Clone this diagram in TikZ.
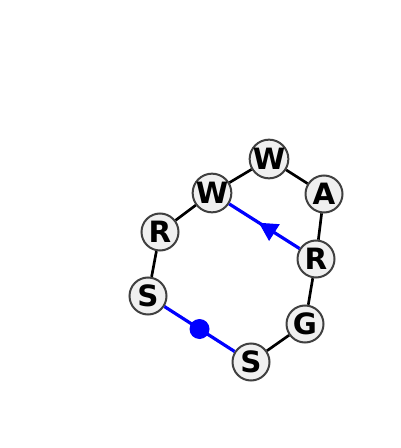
\documentclass[tikz,border=0pt]{standalone}
\usepackage{fontspec}
\setsansfont{DejaVu Sans}
\usetikzlibrary{arrows.meta,decorations.markings}

\tikzset{
  res/.style={circle,draw=black!75,line width=1.5pt,fill=black!6,
    minimum size=27.75pt,inner sep=0pt,
    font=\sffamily\bfseries\fontsize{22}{22}\selectfont},
  bond/.style={black,line width=2pt},
  link/.style={blue,line width=2.4pt}
}

\begin{document}
\begin{tikzpicture}[x=0.75pt,y=-0.75pt]
\useasboundingbox (0,0) rectangle (400,448);

\node[res] (w1) at (269,159) {W};
\node[res] (a1) at (324,194) {A};
\node[res] (r2) at (316,259) {R};
\node[res] (g1) at (305,324) {G};
\node[res] (s2) at (251,362) {S};
\node[res] (s1) at (148,296) {S};
\node[res] (r1) at (160,232) {R};
\node[res] (w2) at (212,193) {W};

\draw[bond] (w2) -- (w1) -- (a1) -- (r2) -- (g1) -- (s2);
\draw[bond] (s1) -- (r1) -- (w2);
\draw[link,postaction={decorate},decoration={markings,
  mark=at position 0.58 with {\arrow{Triangle[length=13.9pt,width=14.25pt]}}}]
  (r2) -- (w2);
\draw[link] (s1) -- (s2) node[midway,circle,fill=blue,inner sep=0pt,minimum size=15pt] (dot) {};

\end{tikzpicture}
\end{document}
